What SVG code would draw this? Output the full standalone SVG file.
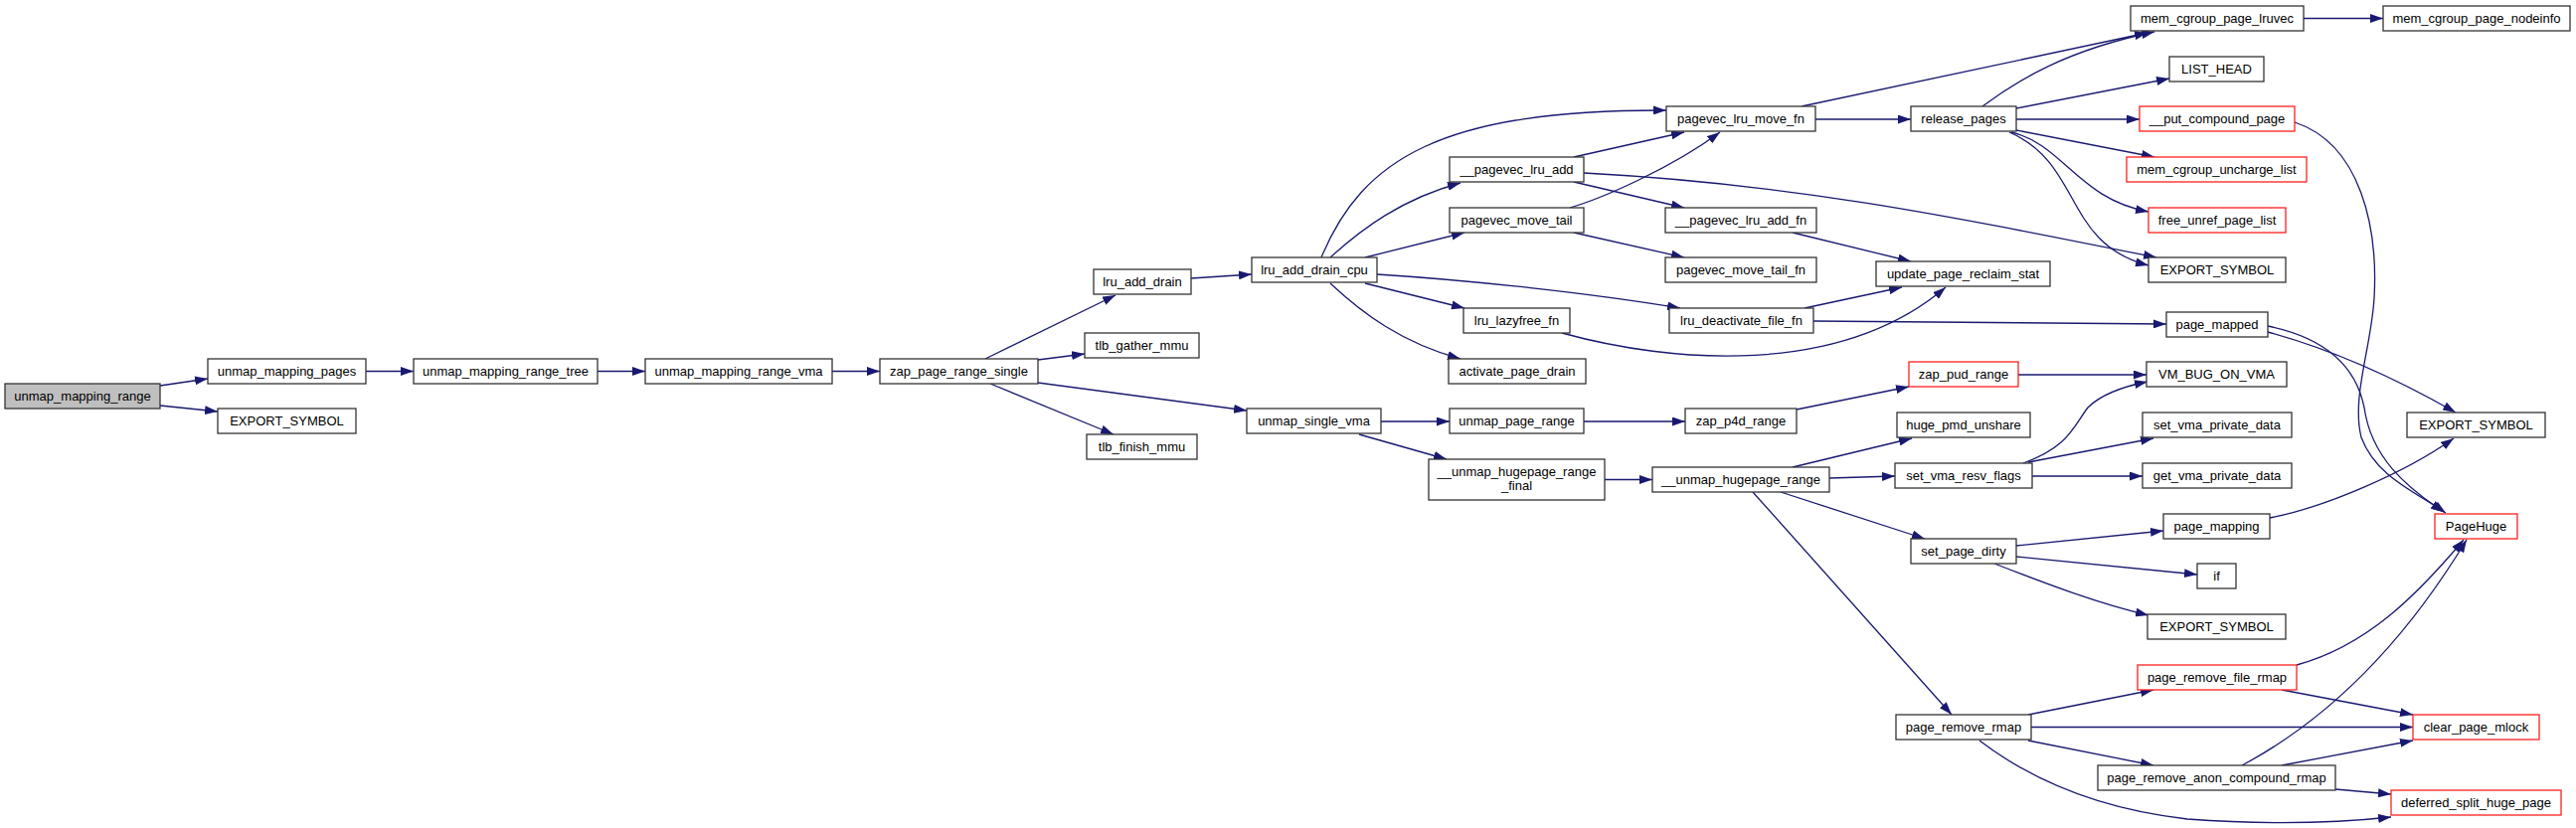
<svg xmlns="http://www.w3.org/2000/svg" width="2591" height="833" viewBox="0 0 2591 833">
<style>
.n rect{fill:#fff;stroke:#333;stroke-width:1.3}
.n.r rect{stroke:#ff2020}
.n.root rect{fill:#bfbfbf}
text{font-family:"Liberation Sans",Arial,sans-serif;font-size:13px;fill:#000;text-anchor:middle}
#edges path{fill:none;stroke:#191970;stroke-width:1.3;marker-end:url(#a)}
</style>
<defs>
<marker id="a" viewBox="0 0 13 9" refX="13" refY="4.5" markerWidth="13" markerHeight="9" orient="auto" markerUnits="userSpaceOnUse">
<path d="M0,0 L13,4.5 L0,9 z" fill="#191970"/>
</marker>
</defs>
<rect width="2591" height="833" fill="#fff"/>
<g id="edges">
<path d="M161,388 L209,381"/>
<path d="M161,408 L219,414"/>
<path d="M368,373.5 L416,373.5"/>
<path d="M601,373.5 L649,373.5"/>
<path d="M837,373.5 L885,373.5"/>
<path d="M991,361 L1122,297"/>
<path d="M1044,362 L1091,356"/>
<path d="M1044,385 L1254,413"/>
<path d="M996,386 L1120,437"/>
<path d="M1198,280 L1259,276"/>
<path d="M1329,259 C1370,160 1450,110 1676,111"/>
<path d="M1338,259 C1370,230 1410,200 1469,184"/>
<path d="M1373,259 L1473,234"/>
<path d="M1385,276 C1480,282 1600,295 1690,310"/>
<path d="M1373,285 L1473,310"/>
<path d="M1338,285 C1370,315 1410,345 1469,361"/>
<path d="M1583,158 L1694,133"/>
<path d="M1583,183 L1694,209"/>
<path d="M1593,174 C1800,185 1950,215 2169,259"/>
<path d="M1579,209 C1610,200 1680,170 1730,133"/>
<path d="M1583,234 L1694,259"/>
<path d="M1803,234 L1922,263"/>
<path d="M1815,310 L1913,289"/>
<path d="M1824,323 L2179,326"/>
<path d="M1571,335 C1680,365 1850,380 1957,289"/>
<path d="M1812,107 L2160,33"/>
<path d="M1826,120 L1922,120"/>
<path d="M1994,107 C2030,80 2080,50 2167,32"/>
<path d="M2028,109 L2182,79"/>
<path d="M2028,120 L2152,120"/>
<path d="M2028,131 L2167,158"/>
<path d="M2023,133 C2075,145 2090,200 2161,213"/>
<path d="M2021,133 C2095,165 2075,245 2161,267"/>
<path d="M2317,18.5 L2397,18.5"/>
<path d="M2308,123 C2375,145 2392,230 2388,300 C2385,350 2365,400 2375,440 C2390,480 2430,495 2460,516"/>
<path d="M2281,328 C2340,340 2370,370 2378,410 C2385,460 2420,490 2458,515"/>
<path d="M2281,334 C2340,350 2400,375 2470,415"/>
<path d="M1389,424 L1458,424"/>
<path d="M1367,437 L1455,462"/>
<path d="M1593,424 L1695,424"/>
<path d="M1807,412 L1920,389"/>
<path d="M2030,377 L2159,377"/>
<path d="M1614,482.5 L1662,482.5"/>
<path d="M1803,470 L1923,441"/>
<path d="M1840,481 L1906,479"/>
<path d="M1791,495 L1936,542"/>
<path d="M1763,495 L1963,719"/>
<path d="M2035,466 C2080,450 2085,430 2100,410 C2115,395 2140,388 2160,384"/>
<path d="M2040,465 L2166,441"/>
<path d="M2044,479 L2155,479"/>
<path d="M2028,549 L2176,534"/>
<path d="M2028,560 L2210,578"/>
<path d="M2006,567 C2060,588 2110,607 2161,619"/>
<path d="M2283,521 C2340,510 2420,475 2468,441"/>
<path d="M2040,719 L2166,694"/>
<path d="M2043,731.5 L2427,731.5"/>
<path d="M2040,745 L2166,770"/>
<path d="M1991,745 C2050,790 2120,815 2200,824 C2280,830 2350,828 2405,822"/>
<path d="M2310,669 C2380,650 2430,600 2478,543"/>
<path d="M2295,694 L2427,719"/>
<path d="M2255,770 C2330,730 2410,660 2481,543"/>
<path d="M2295,770 L2427,745"/>
<path d="M2349,794 L2405,799"/>
</g>
<g id="n_unmap_mapping_range" class="n root"><rect x="5" y="386" width="156" height="25"/><text x="83" y="403">unmap_mapping_range</text></g>
<g id="n_unmap_mapping_pages" class="n"><rect x="209" y="361" width="159" height="25"/><text x="288.5" y="378">unmap_mapping_pages</text></g>
<g id="n_export_symbol_a" class="n"><rect x="219" y="411" width="139" height="25"/><text x="288.5" y="428">EXPORT_SYMBOL</text></g>
<g id="n_unmap_mapping_range_tree" class="n"><rect x="416" y="361" width="185" height="25"/><text x="508.5" y="378">unmap_mapping_range_tree</text></g>
<g id="n_unmap_mapping_range_vma" class="n"><rect x="649" y="361" width="188" height="25"/><text x="743" y="378">unmap_mapping_range_vma</text></g>
<g id="n_zap_page_range_single" class="n"><rect x="885" y="361" width="159" height="25"/><text x="964.5" y="378">zap_page_range_single</text></g>
<g id="n_lru_add_drain" class="n"><rect x="1100" y="271" width="98" height="25"/><text x="1149" y="288">lru_add_drain</text></g>
<g id="n_tlb_gather_mmu" class="n"><rect x="1091" y="335" width="115" height="25"/><text x="1148.5" y="352">tlb_gather_mmu</text></g>
<g id="n_tlb_finish_mmu" class="n"><rect x="1093" y="437" width="111" height="25"/><text x="1148.5" y="454">tlb_finish_mmu</text></g>
<g id="n_unmap_single_vma" class="n"><rect x="1254" y="411" width="135" height="25"/><text x="1321.5" y="428">unmap_single_vma</text></g>
<g id="n_lru_add_drain_cpu" class="n"><rect x="1259" y="259" width="126" height="25"/><text x="1322" y="276">lru_add_drain_cpu</text></g>
<g id="n_pagevec_lru_move_fn" class="n"><rect x="1676" y="107" width="150" height="25"/><text x="1751" y="124">pagevec_lru_move_fn</text></g>
<g id="n___pagevec_lru_add" class="n"><rect x="1458" y="158" width="135" height="25"/><text x="1525.5" y="175">__pagevec_lru_add</text></g>
<g id="n_pagevec_move_tail" class="n"><rect x="1458" y="209" width="135" height="25"/><text x="1525.5" y="226">pagevec_move_tail</text></g>
<g id="n___pagevec_lru_add_fn" class="n"><rect x="1675" y="209" width="152" height="25"/><text x="1751" y="226">__pagevec_lru_add_fn</text></g>
<g id="n_pagevec_move_tail_fn" class="n"><rect x="1675" y="259" width="152" height="25"/><text x="1751" y="276">pagevec_move_tail_fn</text></g>
<g id="n_lru_lazyfree_fn" class="n"><rect x="1472" y="310" width="107" height="25"/><text x="1525.5" y="327">lru_lazyfree_fn</text></g>
<g id="n_lru_deactivate_file_fn" class="n"><rect x="1679" y="310" width="145" height="25"/><text x="1751.5" y="327">lru_deactivate_file_fn</text></g>
<g id="n_activate_page_drain" class="n"><rect x="1457" y="361" width="138" height="25"/><text x="1526" y="378">activate_page_drain</text></g>
<g id="n_update_page_reclaim_stat" class="n"><rect x="1887" y="263" width="175" height="25"/><text x="1974.5" y="280">update_page_reclaim_stat</text></g>
<g id="n_release_pages" class="n"><rect x="1922" y="107" width="106" height="25"/><text x="1975" y="124">release_pages</text></g>
<g id="n_mem_cgroup_page_lruvec" class="n"><rect x="2143" y="6" width="174" height="25"/><text x="2230" y="23">mem_cgroup_page_lruvec</text></g>
<g id="n_mem_cgroup_page_nodeinfo" class="n"><rect x="2397" y="6" width="188" height="25"/><text x="2491" y="23">mem_cgroup_page_nodeinfo</text></g>
<g id="n_list_head" class="n"><rect x="2182" y="57" width="95" height="25"/><text x="2229.5" y="74">LIST_HEAD</text></g>
<g id="n___put_compound_page" class="n r"><rect x="2152" y="107" width="156" height="25"/><text x="2230" y="124">__put_compound_page</text></g>
<g id="n_mem_cgroup_uncharge_list" class="n r"><rect x="2139" y="158" width="181" height="25"/><text x="2229.5" y="175">mem_cgroup_uncharge_list</text></g>
<g id="n_free_unref_page_list" class="n r"><rect x="2161" y="209" width="138" height="25"/><text x="2230" y="226">free_unref_page_list</text></g>
<g id="n_export_symbol_b" class="n"><rect x="2161" y="259" width="138" height="25"/><text x="2230" y="276">EXPORT_SYMBOL</text></g>
<g id="n_page_mapped" class="n"><rect x="2179" y="314" width="102" height="25"/><text x="2230" y="331">page_mapped</text></g>
<g id="n_zap_pud_range" class="n r"><rect x="1920" y="364" width="110" height="25"/><text x="1975" y="381">zap_pud_range</text></g>
<g id="n_vm_bug_on_vma" class="n"><rect x="2159" y="364" width="141" height="25"/><text x="2229.5" y="381">VM_BUG_ON_VMA</text></g>
<g id="n_unmap_page_range" class="n"><rect x="1458" y="411" width="135" height="25"/><text x="1525.5" y="428">unmap_page_range</text></g>
<g id="n_zap_p4d_range" class="n"><rect x="1695" y="411" width="112" height="25"/><text x="1751" y="428">zap_p4d_range</text></g>
<g id="n_huge_pmd_unshare" class="n"><rect x="1908" y="415" width="134" height="25"/><text x="1975" y="432">huge_pmd_unshare</text></g>
<g id="n_set_vma_private_data" class="n"><rect x="2155" y="415" width="150" height="25"/><text x="2230" y="432">set_vma_private_data</text></g>
<g id="n_export_symbol_c" class="n"><rect x="2421" y="415" width="139" height="25"/><text x="2490.5" y="432">EXPORT_SYMBOL</text></g>
<g id="n___unmap_hugepage_range_final" class="n"><rect x="1437" y="462" width="177" height="41"/><text x="1525.5" y="479">__unmap_hugepage_range</text><text x="1525.5" y="493">_final</text></g>
<g id="n___unmap_hugepage_range" class="n"><rect x="1662" y="470" width="178" height="25"/><text x="1751" y="487">__unmap_hugepage_range</text></g>
<g id="n_set_vma_resv_flags" class="n"><rect x="1906" y="466" width="138" height="25"/><text x="1975" y="483">set_vma_resv_flags</text></g>
<g id="n_get_vma_private_data" class="n"><rect x="2155" y="466" width="150" height="25"/><text x="2230" y="483">get_vma_private_data</text></g>
<g id="n_page_mapping" class="n"><rect x="2176" y="517" width="107" height="25"/><text x="2229.5" y="534">page_mapping</text></g>
<g id="n_pagehuge" class="n r"><rect x="2449" y="517" width="83" height="25"/><text x="2490.5" y="534">PageHuge</text></g>
<g id="n_set_page_dirty" class="n"><rect x="1922" y="542" width="106" height="25"/><text x="1975" y="559">set_page_dirty</text></g>
<g id="n_if" class="n"><rect x="2210" y="567" width="39" height="25"/><text x="2229.5" y="584">if</text></g>
<g id="n_export_symbol_d" class="n"><rect x="2160" y="618" width="139" height="25"/><text x="2229.5" y="635">EXPORT_SYMBOL</text></g>
<g id="n_page_remove_file_rmap" class="n r"><rect x="2150" y="669" width="160" height="25"/><text x="2230" y="686">page_remove_file_rmap</text></g>
<g id="n_page_remove_rmap" class="n"><rect x="1907" y="719" width="136" height="25"/><text x="1975" y="736">page_remove_rmap</text></g>
<g id="n_clear_page_mlock" class="n r"><rect x="2427" y="719" width="127" height="25"/><text x="2490.5" y="736">clear_page_mlock</text></g>
<g id="n_page_remove_anon_compound_rmap" class="n"><rect x="2110" y="770" width="239" height="25"/><text x="2229.5" y="787">page_remove_anon_compound_rmap</text></g>
<g id="n_deferred_split_huge_page" class="n r"><rect x="2405" y="795" width="171" height="25"/><text x="2490.5" y="812">deferred_split_huge_page</text></g>
</svg>
